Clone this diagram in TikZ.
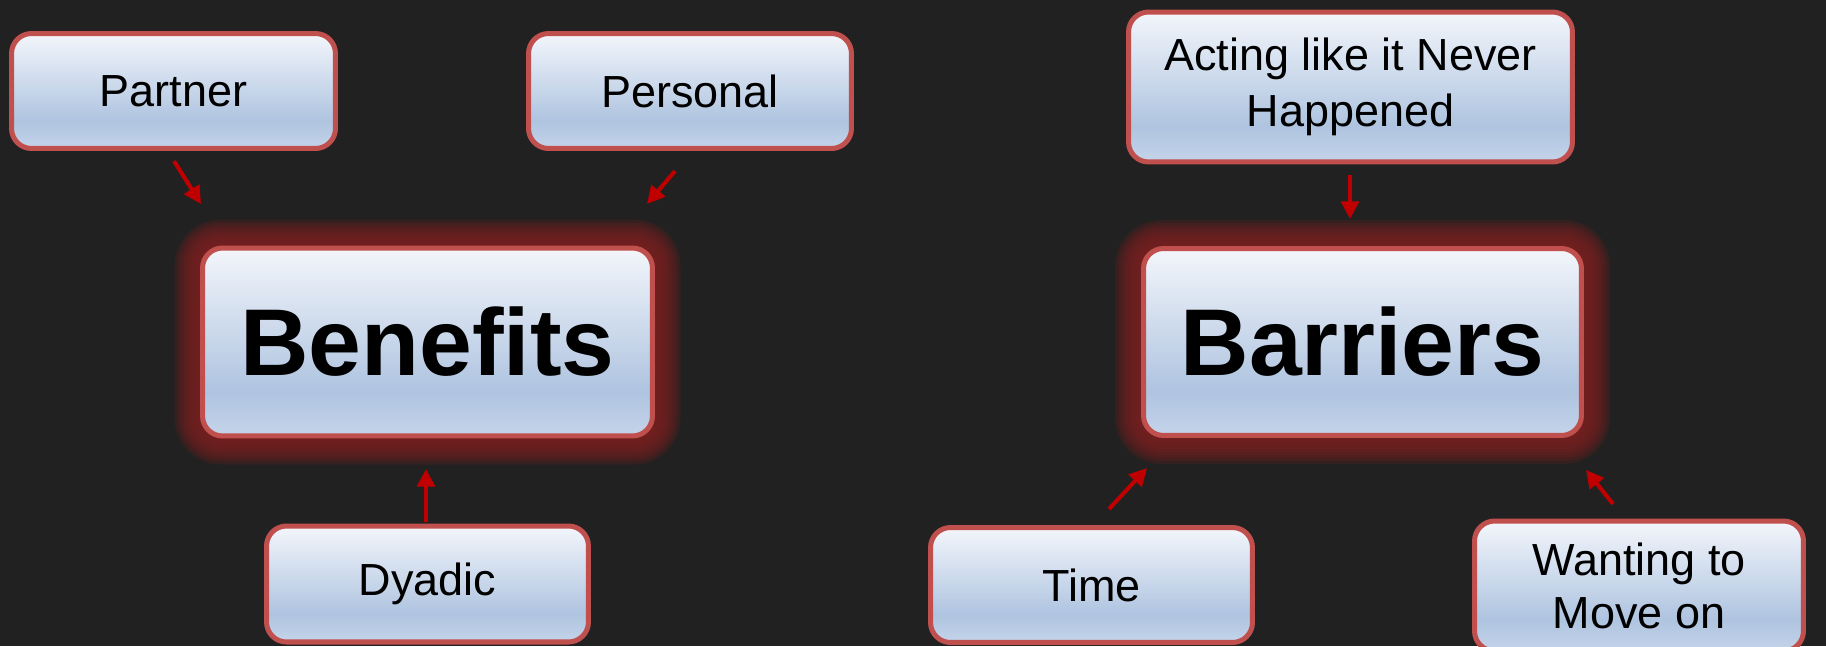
\documentclass[tikz,border=0pt]{standalone}
\usepackage{fontspec}
\setmainfont{Liberation Sans}
\usetikzlibrary{arrows.meta,calc}
\definecolor{bg}{HTML}{212121}
\definecolor{bordred}{HTML}{C0504D}
\definecolor{arrred}{HTML}{C00000}
\definecolor{glowred}{HTML}{7A1E1E}
\definecolor{gtop}{HTML}{F3F6FB}
\definecolor{gmid}{HTML}{AFC4E0}
\definecolor{gbot}{HTML}{C4D4EA}
\pgfdeclareverticalshading{boxgrad}{100bp}{color(0bp)=(gbot); color(25bp)=(gbot); color(37bp)=(gmid); color(75bp)=(gtop); color(100bp)=(gtop)}
\begin{document}
\begin{tikzpicture}[x=0.02cm,y=-0.02cm,
  box/.style={draw=bordred, line width=2.85pt, rounded corners=0.4cm, shading=boxgrad,
    inner sep=0pt, align=center, font=\fontsize{25.6pt}{30pt}\selectfont},
  bigbox/.style={box, font=\fontsize{54pt}{60pt}\selectfont\bfseries},
  conn/.style={draw=arrred, line width=2.3pt, -{Triangle[length=10pt,width=10pt]}}
]
\fill[bg] (0,0) rectangle (1826,646);
\useasboundingbox (0,0) rectangle (1826,646);

% glow positions of the central nodes
\coordinate (benc) at (427.5,342);
\coordinate (barc) at (1362.5,342);
\foreach \g [evaluate=\g as \r using 0.4+\g*0.02] in {26,23,20,17,14,11,8,5,2}{
  \fill[glowred, opacity=0.23, rounded corners=\r cm]
    ($(benc)+(-227-\g,-96.5-\g)$) rectangle ($(benc)+(227+\g,96.5+\g)$);
  \fill[glowred, opacity=0.23, rounded corners=\r cm]
    ($(barc)+(-221.5-\g,-96-\g)$) rectangle ($(barc)+(221.5+\g,96+\g)$);
}

\node[box, minimum width=6.48cm, minimum height=2.30cm] (partner) at (173.5,91) {Partner};
\node[box, minimum width=6.46cm, minimum height=2.30cm] (personal) at (690,91) {Personal};
\node[bigbox, minimum width=9.0cm, minimum height=3.76cm] (benefits) at (benc) {Benefits};
\node[box, minimum width=6.44cm, minimum height=2.32cm] (dyadic) at (427.5,584) {Dyadic};
\node[box, minimum width=8.88cm, minimum height=3.0cm, font=\fontsize{25.6pt}{32pt}\selectfont] (acting) at (1350.5,87) {Acting like it Never\\Happened};
\node[bigbox, minimum width=8.76cm, minimum height=3.74cm] (barriers) at (barc) {Barriers};
\node[box, minimum width=6.44cm, minimum height=2.30cm] (time) at (1091.5,585) {Time};
\node[box, minimum width=6.58cm, minimum height=2.60cm] (wanting) at (1639,586) {Wanting to\\Move on};

% connector end points
\coordinate (p1) at (174,161);  \coordinate (p2) at (201,204);
\coordinate (q1) at (675,171);  \coordinate (q2) at (647,204);
\coordinate (d1) at (426,522);  \coordinate (d2) at (426,469);
\coordinate (a1) at (1350,175); \coordinate (a2) at (1350,219);
\coordinate (t1) at (1109,509); \coordinate (t2) at (1147,468);
\coordinate (w1) at (1613,504); \coordinate (w2) at (1586,470);

\draw[conn] (p1) -- (p2);
\draw[conn] (q1) -- (q2);
\draw[conn] (d1) -- (d2);
\draw[conn] (a1) -- (a2);
\draw[conn] (t1) -- (t2);
\draw[conn] (w1) -- (w2);
\end{tikzpicture}
\end{document}
